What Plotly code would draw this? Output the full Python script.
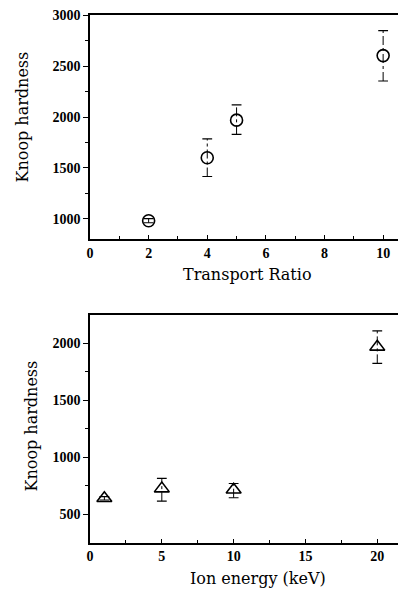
import plotly.graph_objects as go

# Top panel: Knoop hardness vs transport ratio
ratio = [2, 4, 5, 10]
hard_ratio = [980, 1600, 1970, 2605]
err_ratio_hi = [20, 185, 150, 245]
err_ratio_lo = [20, 185, 140, 250]

# Bottom panel: Knoop hardness vs ion energy
energy = [1, 5, 10, 20]
hard_energy = [640, 725, 715, 1970]
err_energy_hi = [15, 90, 55, 140]
err_energy_lo = [15, 110, 70, 145]

fig = go.Figure()

def add_panel(x, y, hi, lo, symbol, size, xa, ya):
    sx, sy, cx, cy = [], [], [], []
    for xi, yi, h, l in zip(x, y, hi, lo):
        sx += [xi, xi, None]
        sy += [yi - l, yi + h, None]
        cx += [xi, xi]
        cy += [yi - l, yi + h]
    fig.add_trace(go.Scatter(x=sx, y=sy, mode="lines", xaxis=xa, yaxis=ya,
                             line=dict(color="black", width=1, dash="dashdot"),
                             showlegend=False, hoverinfo="skip"))
    fig.add_trace(go.Scatter(x=cx, y=cy, mode="markers", xaxis=xa, yaxis=ya,
                             marker=dict(symbol="line-ew", size=7,
                                         line=dict(color="black", width=1.2)),
                             showlegend=False, hoverinfo="skip"))
    fig.add_trace(go.Scatter(x=x, y=y, mode="markers", xaxis=xa, yaxis=ya,
                             marker=dict(symbol=symbol, size=size, color="black",
                                         line=dict(color="black", width=1.6)),
                             showlegend=False))

add_panel(ratio, hard_ratio, err_ratio_hi, err_ratio_lo, "circle-open", 12, "x", "y")
add_panel(energy, hard_energy, err_energy_hi, err_energy_lo, "triangle-up-open", 13, "x2", "y2")

tickfont = dict(family="Liberation Serif", size=14, color="black", weight="bold")
titlefont = dict(family="DejaVu Serif", size=16, color="black")

common_x = dict(showline=True, linecolor="black", linewidth=1.5, mirror=True,
                ticks="inside", ticklen=4, tickwidth=1, tickcolor="black",
                showgrid=False, zeroline=False, tickfont=tickfont, automargin=False,
                ticklabeloverflow="allow")
common_y = dict(showline=True, linecolor="black", linewidth=1.5,
                ticks="outside", ticklen=5, tickwidth=1, tickcolor="black",
                showgrid=False, zeroline=False, tickfont=tickfont, automargin=False,
                ticklabeloverflow="allow")

fig.update_layout(
    width=398, height=589,
    margin=dict(l=82, r=0, t=0, b=0),
    paper_bgcolor="white", plot_bgcolor="white",
    xaxis=dict(**common_x, domain=[0, 1], anchor="y", range=[0, 10.78],
               tickvals=[0, 2, 4, 6, 8, 10],
               minor=dict(tickvals=[1, 3, 5, 7, 9], ticks="inside", ticklen=3, tickcolor="black")),
    yaxis=dict(**common_y, domain=[0.6078, 0.9873], anchor="x", range=[800, 3000],
               tickvals=[1000, 1500, 2000, 2500, 3000],
               minor=dict(tickvals=[1250, 1750, 2250, 2750], ticks="outside", ticklen=3, tickcolor="black")),
    xaxis2=dict(**common_x, domain=[0, 1], anchor="y2", range=[0, 22],
                tickvals=[0, 5, 10, 15, 20],
                minor=dict(tickvals=[2.5, 7.5, 12.5, 17.5], ticks="inside", ticklen=3, tickcolor="black")),
    yaxis2=dict(**common_y, domain=[0.0922, 0.4788], anchor="x2", range=[250, 2250],
                tickvals=[500, 1000, 1500, 2000],
                minor=dict(tickvals=[750, 1250, 1750], ticks="outside", ticklen=3, tickcolor="black")),
    annotations=[
        dict(text="Transport Ratio", xref="paper", yref="paper", x=0.4984, y=0.5467,
             xanchor="center", yanchor="middle", showarrow=False, font=titlefont),
        dict(text="Ion energy (keV)", xref="paper", yref="paper", x=0.5316, y=0.0306,
             xanchor="center", yanchor="middle", showarrow=False, font=titlefont),
        dict(text="Knoop hardness", xref="paper", yref="paper", x=-0.2152, y=0.8158,
             xanchor="center", yanchor="middle", showarrow=False, textangle=-90, font=titlefont),
        dict(text="Knoop hardness", xref="paper", yref="paper", x=-0.1867, y=0.2895,
             xanchor="center", yanchor="middle", showarrow=False, textangle=-90, font=titlefont),
    ],
)

fig.write_html("out.html")
